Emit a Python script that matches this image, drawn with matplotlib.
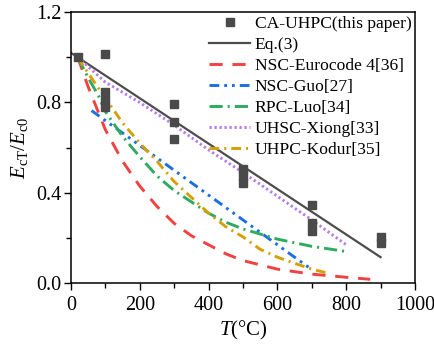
import matplotlib
matplotlib.use('Agg')
import matplotlib.pyplot as plt

plt.rcParams['font.family'] = ['Liberation Serif', 'DejaVu Serif']
plt.rcParams['mathtext.fontset'] = 'custom'
plt.rcParams['mathtext.rm'] = 'Liberation Serif'
plt.rcParams['mathtext.it'] = 'Liberation Serif:italic'
plt.rcParams['lines.scale_dashes'] = False

# test data (CA-UHPC)
T_exp = [20, 100, 100, 100, 100, 300, 300, 300, 500, 500, 500, 700, 700, 700, 900, 900]
E_exp = [1.0, 1.014, 0.845, 0.81, 0.78, 0.793, 0.713, 0.638, 0.505, 0.475, 0.443,
         0.345, 0.266, 0.23, 0.204, 0.177]

# Eq.(3)
T_eq3 = [0, 900]
E_eq3 = [1.02, 0.115]

# NSC-Eurocode 4
T_ec4 = [20, 50, 100, 150, 200, 250, 300, 350, 400, 450, 500, 600, 700, 800, 870]
E_ec4 = [1.0, 0.87, 0.68, 0.54, 0.43, 0.34, 0.265, 0.21, 0.17, 0.13, 0.10, 0.062, 0.04, 0.026, 0.017]

# NSC-Guo
T_guo = [60, 700]
E_guo = [0.764, 0.06]

# RPC-Luo
T_luo = [20, 50, 80, 100, 150, 200, 250, 300, 350, 400, 450, 500, 600, 700, 800]
E_luo = [1.0, 0.91, 0.83, 0.76, 0.65, 0.56, 0.475, 0.41, 0.36, 0.31, 0.27, 0.24, 0.195, 0.163, 0.14]

# UHSC-Xiong
T_xiong = [20, 100, 200, 300, 400, 500, 600, 700, 800]
E_xiong = [1.0, 0.89, 0.80, 0.70, 0.59, 0.49, 0.385, 0.28, 0.17]

# UHPC-Kodur
T_kodur = [20, 50, 100, 150, 200, 250, 300, 350, 400, 450, 500, 550, 600, 650, 700, 750]
E_kodur = [1.0, 0.93, 0.82, 0.71, 0.62, 0.54, 0.45, 0.38, 0.31, 0.25, 0.205, 0.15, 0.115, 0.088, 0.062, 0.043]

fig = plt.figure(figsize=(4.35, 3.47), dpi=100)
ax = fig.add_axes([0.163, 0.184, 0.791, 0.781])

ax.plot(T_exp, E_exp, 's', color='#4a4a4a', markersize=6.3, label='CA-UHPC(this paper)', zorder=3)
ax.plot(T_eq3, E_eq3, '-', color='#4d4d4d', lw=1.6, label='Eq.(3)')
ax.plot(T_ec4, E_ec4, color='#f24141', lw=2.1, dashes=(9.5, 7), label='NSC-Eurocode 4[36]')
ax.plot(T_guo, E_guo, color='#1c6fe0', lw=2.1, dashes=(7, 3.6, 2, 3.6, 2, 3.6), label='NSC-Guo[27]')
ax.plot(T_luo, E_luo, color='#2eab60', lw=2.1, dashes=(9.5, 3.6, 1.5, 3.6), label='RPC-Luo[34]')
ax.plot(T_xiong, E_xiong, color='#b57be8', lw=2.1, dashes=(1.6, 2.0), label='UHSC-Xiong[33]')
ax.plot(T_kodur, E_kodur, color='#d5a006', lw=2.1, dashes=(7, 3.6, 1.5, 3.6), label='UHPC-Kodur[35]')

ax.set_xlim(0, 1000)
ax.set_ylim(0, 1.2)
ax.set_xticks([0, 200, 400, 600, 800, 1000])
ax.set_xticks([100, 300, 500, 700, 900], minor=True)
ax.set_yticks([0.0, 0.4, 0.8, 1.2])
ax.set_yticklabels(['0.0', '0.4', '0.8', '1.2'])
ax.set_yticks([0.2, 0.6, 1.0], minor=True)
ax.tick_params(which='major', direction='out', length=5, width=1, labelsize=14.5)
ax.tick_params(axis='x', which='major', pad=4)
ax.tick_params(axis='y', which='major', pad=2)
ax.tick_params(which='minor', direction='out', length=3.5, width=1)
for s in ax.spines.values():
    s.set_linewidth(1.1)

ax.set_xlabel(r'$T$(°C)', fontsize=15, labelpad=3)
ax.set_ylabel(r'$E_{\mathrm{cT}}/E_{\mathrm{c0}}$', fontsize=15, labelpad=4)

ax.legend(loc='upper right', bbox_to_anchor=(1.0, 1.0), frameon=False, fontsize=12.6,
          handlelength=2.35, handletextpad=0.25, labelspacing=0.27, borderpad=0.2,
          borderaxespad=0.0)

fig.savefig('out.png', dpi=100)
